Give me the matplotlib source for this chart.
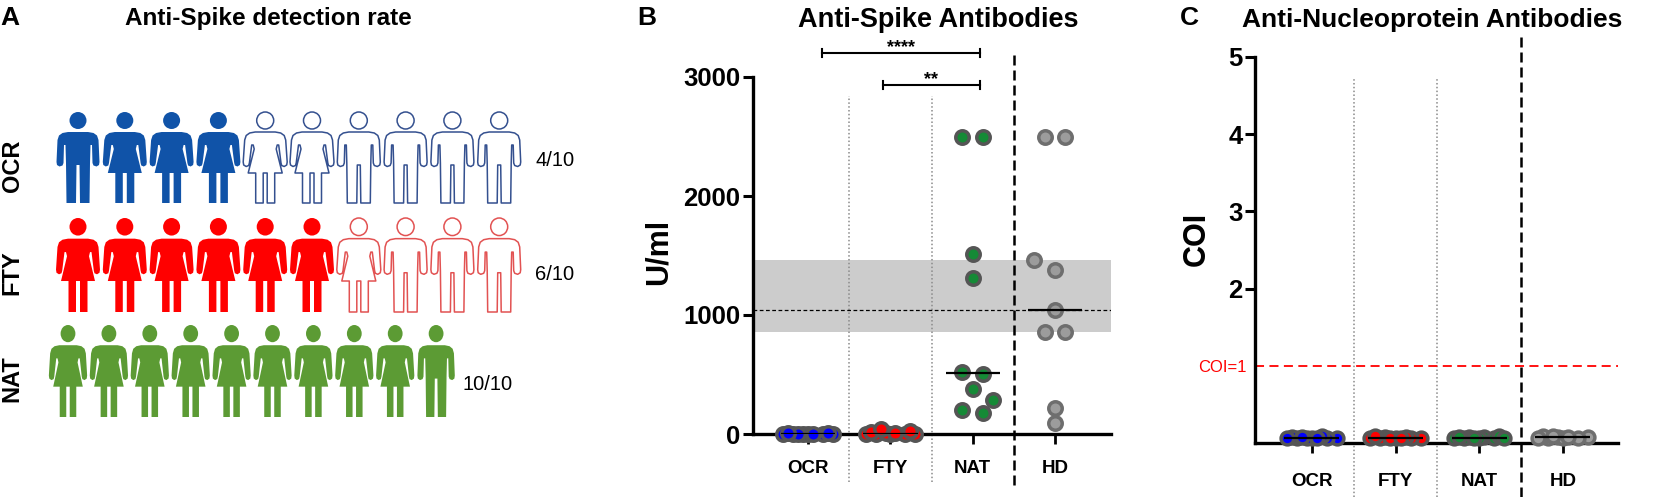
import numpy as np
import matplotlib
matplotlib.use('Agg')
import matplotlib.pyplot as plt
from matplotlib.patches import Polygon, Ellipse

plt.rcParams['font.family'] = ['Liberation Sans', 'DejaVu Sans']

# ---------------- data ----------------
rate_groups = ['OCR', 'FTY', 'NAT']
rate_positive = [4, 6, 10]
rate_total = [10, 10, 10]
rate_sexes = ['MFFFFFMMMM', 'FFFFFFFMMM', 'FFFFFFFFFM']

categories = ['OCR', 'FTY', 'NAT', 'HD']
spike_ocr = [0.4, 0.4, 0.4, 0.4, 0.4, 0.4, 1.5, 3.0, 6.0, 12.0]
spike_fty = [0.4, 0.4, 0.4, 0.4, 2.0, 5.0, 9.0, 15.0, 22.0, 42.0]
spike_nat = [2500, 2500, 1510, 1310, 521, 504, 378, 286, 202, 176]
spike_hd = [2500, 2500, 1462, 1378, 1042, 857, 857, 218, 92]
spike_ticks = [0, 1000, 2000, 3000]
spike_tests = [('OCR', 'NAT', '****'), ('FTY', 'NAT', '**')]

np_ocr = [0.06, 0.07, 0.06, 0.08, 0.07, 0.06, 0.09, 0.07, 0.08, 0.06]
np_fty = [0.07, 0.06, 0.08, 0.07, 0.06, 0.09, 0.07, 0.06, 0.08, 0.07]
np_nat = [0.08, 0.07, 0.06, 0.09, 0.07, 0.08, 0.06, 0.07, 0.08, 0.07]
np_hd = [0.08, 0.07, 0.09, 0.08, 0.07, 0.06, 0.08, 0.07, 0.09]
np_ticks = [2, 3, 4, 5]
coi_cutoff = 1.0

# ---------------- styling ----------------
W, H = 1654, 497
fig = plt.figure(figsize=(W / 100, H / 100), dpi=100)

icon_fill = ['#1053A8', '#FF0000', '#5C9B34']
icon_empty = ['#34508F', '#E25252', '#5C9B34']
dot_fill = ['#0000FF', '#FF0000', '#158A36', '#9C9C9C']
dot_edge = ['#555555', '#555555', '#555555', '#6E6E6E']


def ftext(x, y, s, **kw):
    return fig.text(x / W, 1 - y / H, s, **kw)


def px_axes(x0, y0, x1, y1):
    return fig.add_axes([x0 / W, 1 - y1 / H, (x1 - x0) / W, (y1 - y0) / H])


# ---------------- panel A: pictogram ----------------
MALE = [(-10, 71), (10, 71), (15.5, 70), (19, 67.5), (20.5, 63), (21.5, 41), (21, 38),
        (18.5, 36.5), (15.5, 37.5), (14.5, 40), (14, 58), (12.5, 58), (12, 40), (11.5, 0),
        (2, 0), (1.5, 38), (-1.5, 38), (-2, 0), (-11.5, 0), (-12, 40), (-12.5, 58),
        (-14, 58), (-14.5, 40), (-15.5, 37.5), (-18.5, 36.5), (-21, 38), (-21.5, 41),
        (-20.5, 63), (-19, 67.5), (-15.5, 70)]
FEMALE = [(-10, 71), (10, 71), (15.5, 70), (19, 67.5), (20.5, 63), (22, 41), (21.5, 38),
          (19, 36.5), (16.5, 37.5), (15.8, 40), (13.5, 58), (12, 58), (11, 54), (17, 30),
          (9.5, 30), (9.5, 0), (2, 0), (2, 30), (-2, 30), (-2, 0), (-9.5, 0), (-9.5, 30),
          (-17, 30), (-11, 54), (-12, 58), (-13.5, 58), (-15.8, 40), (-16.5, 37.5),
          (-19, 36.5), (-21.5, 38), (-22, 41), (-20.5, 63), (-19, 67.5), (-15.5, 70)]

ax_a = px_axes(0, 0, 600, H)
ax_a.set_xlim(0, 600)
ax_a.set_ylim(H, 0)
ax_a.axis('off')

# row layout: first centre, spacing, top, feet, x-scale
row_layout = [(78, 46.8, 112, 203, 1.0), (78, 46.8, 218, 312, 1.0), (68, 40.9, 325, 417, 0.87)]


def draw_person(ax, cx, top, feet, sx, sex, filled, fc, ec):
    sy = (feet - top) / 91.0
    shape = MALE if sex == 'M' else FEMALE
    pts = [(cx + x * sx, feet - y * sy) for x, y in shape]
    if filled:
        kw = dict(facecolor=fc, edgecolor='none', lw=0)
    else:
        kw = dict(facecolor='white', edgecolor=ec, lw=1.1)
    ax.add_patch(Polygon(pts, closed=True, joinstyle='round', **kw))
    ax.add_patch(Ellipse((cx, feet - 82.5 * sy), 17 * sx, 17 * sy, **kw))


for r, grp in enumerate(rate_groups):
    x0, dx, top, feet, sx = row_layout[r]
    for i in range(rate_total[r]):
        draw_person(ax_a, x0 + i * dx, top, feet, sx, rate_sexes[r][i],
                    i < rate_positive[r], icon_fill[r], icon_empty[r])
    ftext(12, (top + feet) / 2 + 8, grp, rotation=90, ha='center', va='center',
          fontsize=17, weight='bold')

ftext(535, 166.5, f'{rate_positive[0]}/{rate_total[0]}', fontsize=14.5, va='baseline')
ftext(535, 280, f'{rate_positive[1]}/{rate_total[1]}', fontsize=14.5, va='baseline')
ftext(462, 390, f'{rate_positive[2]}/{rate_total[2]}', fontsize=14.5, va='baseline')

ftext(0, 25, 'A', fontsize=19, weight='bold', va='baseline')
ftext(268, 25, 'Anti-Spike detection rate', fontsize=17.5, weight='bold', ha='center',
      va='baseline')


# ---------------- helpers for scatter panels ----------------
def swarm(ax, xc, vals, step, halfw, thresh):
    vals = np.asarray(vals, float)
    n = int(round(halfw / step))
    cands = [0.0]
    for k in range(1, n + 1):
        cands += [-k * step, k * step]
    order = np.argsort(vals, kind='stable')
    T = ax.transData
    placed = []
    offs = np.zeros(len(vals))
    for i in order:
        best, bestd = 0.0, -1.0
        for c in cands:
            p = T.transform((xc + c, vals[i]))
            d = min((np.hypot(*(p - q)) for q in placed), default=np.inf)
            if d >= thresh:
                best = c
                break
            if d > bestd + 1e-6:
                best, bestd = c, d
        offs[i] = best
        placed.append(T.transform((xc + best, vals[i])))
    # centre rows of points lying at (nearly) the same height
    ypx = np.array([T.transform((xc, v))[1] for v in vals])
    srt = np.argsort(ypx)
    rows, cur = [], [srt[0]]
    for a, b in zip(srt[:-1], srt[1:]):
        if ypx[b] - ypx[a] < 3.5:
            cur.append(b)
        else:
            rows.append(cur)
            cur = [b]
    rows.append(cur)
    for rw in rows:
        if len(rw) > 1:
            o = offs[rw]
            offs[rw] = o - (o.max() + o.min()) / 2
    return offs


def style_axes(ax, ymax, ticks, xlen, xpad):
    for s in ['top', 'right']:
        ax.spines[s].set_visible(False)
    ax.spines['left'].set_linewidth(2.4)
    ax.spines['bottom'].set_linewidth(2.4)
    ax.spines['left'].set_bounds(0, ymax)
    ax.set_yticks(ticks)
    ax.set_xticks(range(len(categories)))
    ax.set_xticklabels(categories)
    ax.tick_params(axis='y', direction='out', length=7, width=2.2, labelsize=18.5, pad=2)
    ax.tick_params(axis='x', direction='out', length=xlen, width=2, labelsize=13.5, pad=xpad)
    for lab in ax.get_xticklabels() + ax.get_yticklabels():
        lab.set_fontweight('bold')
    ax.patch.set_visible(False)


def separators(ax, dot_top, dot_bot, dash_top, dash_bot):
    for xs in [0.5, 1.5]:
        ax.axvline(xs, ymin=dot_bot, ymax=dot_top, color='#8A8A8A', lw=1.1,
                   ls=(0, (1, 1.5)), clip_on=False, zorder=1)
    ax.axvline(2.5, ymin=dash_bot, ymax=dash_top, color='black', lw=1.8,
               ls=(0, (4, 2)), clip_on=False, zorder=1)


# ---------------- panel B ----------------
ax_b = px_axes(753, 77, 1111, 434)
ax_b.set_xlim(-0.67, 3.68)
ax_b.set_ylim(0, 3000)
style_axes(ax_b, 3000, spike_ticks, 7, 12)
separators(ax_b, 0.947, -0.134, 1.07, -0.143)

q1, q3 = np.percentile(spike_hd, [25, 75])
ax_b.axhspan(q1, q3, color='#CCCCCC', lw=0, zorder=0)
ax_b.axhline(np.median(spike_hd), color='black', lw=0.9, ls=(0, (3, 2)), zorder=1)

spike_sets = [spike_ocr, spike_fty, spike_nat, spike_hd]
spike_steps = [0.06, 0.06, 0.25, 0.25]
for k, vals in enumerate(spike_sets):
    offs = swarm(ax_b, k, vals, spike_steps[k], 0.3 if spike_steps[k] < 0.1 else 0.25, 13.6)
    ax_b.scatter(k + offs, vals, s=94, c=dot_fill[k], edgecolors=dot_edge[k],
                 linewidths=2.5, zorder=3, clip_on=False)
    ax_b.hlines(np.median(vals), k - 0.33, k + 0.33, color='black', lw=1.6, zorder=4)

bracket_y = [3200, 2933]
bracket_lpad = [0.17, -0.09]
for (a, b, lab), yb, lp in zip(spike_tests, bracket_y, bracket_lpad):
    xl = categories.index(a) + lp
    xr = categories.index(b) + 0.085
    ax_b.plot([xl, xr], [yb, yb], color='black', lw=1.5, clip_on=False)
    for xe in (xl, xr):
        ax_b.plot([xe, xe], [yb - 35, yb + 35], color='black', lw=1.5, clip_on=False)
    ax_b.text((xl + xr) / 2, yb + 10, lab, ha='center', va='baseline', fontsize=13,
              weight='bold')

ftext(659, 252, 'U/ml', rotation=90, ha='center', va='center', fontsize=22, weight='bold')
ftext(637, 25, 'B', fontsize=19, weight='bold', va='baseline')
ftext(938, 27, 'Anti-Spike Antibodies', fontsize=19.5, weight='bold', ha='center',
      va='baseline')

# ---------------- panel C ----------------
ax_c = px_axes(1255, 57, 1618, 443)
ax_c.set_xlim(-0.68, 3.66)
ax_c.set_ylim(0, 5)
style_axes(ax_c, 5, np_ticks, 7.5, 14)
separators(ax_c, 0.946, -0.14, 1.065, -0.14)
ax_c.axhline(coi_cutoff, color='red', lw=1.3, ls=(0, (5, 3)), zorder=1)

np_sets = [np_ocr, np_fty, np_nat, np_hd]
for k, vals in enumerate(np_sets):
    offs = swarm(ax_c, k, vals, 0.06, 0.3, 13.6)
    ax_c.scatter(k + offs, vals, s=85, c=dot_fill[k], edgecolors=dot_edge[k],
                 linewidths=2.5, zorder=3, clip_on=False)
    ax_c.hlines(np.median(vals), k - 0.33, k + 0.33, color='black', lw=1.6, zorder=4,
                clip_on=False)

ftext(1247, 367, f'COI={coi_cutoff:g}', color='red', fontsize=12, ha='right', va='center')
ftext(1197, 239, 'COI', rotation=90, ha='center', va='center', fontsize=22, weight='bold')
ftext(1180, 25, 'C', fontsize=19, weight='bold', va='baseline')
ftext(1432, 27, 'Anti-Nucleoprotein Antibodies', fontsize=19, weight='bold', ha='center',
      va='baseline')

fig.savefig('out.png', dpi=100)
